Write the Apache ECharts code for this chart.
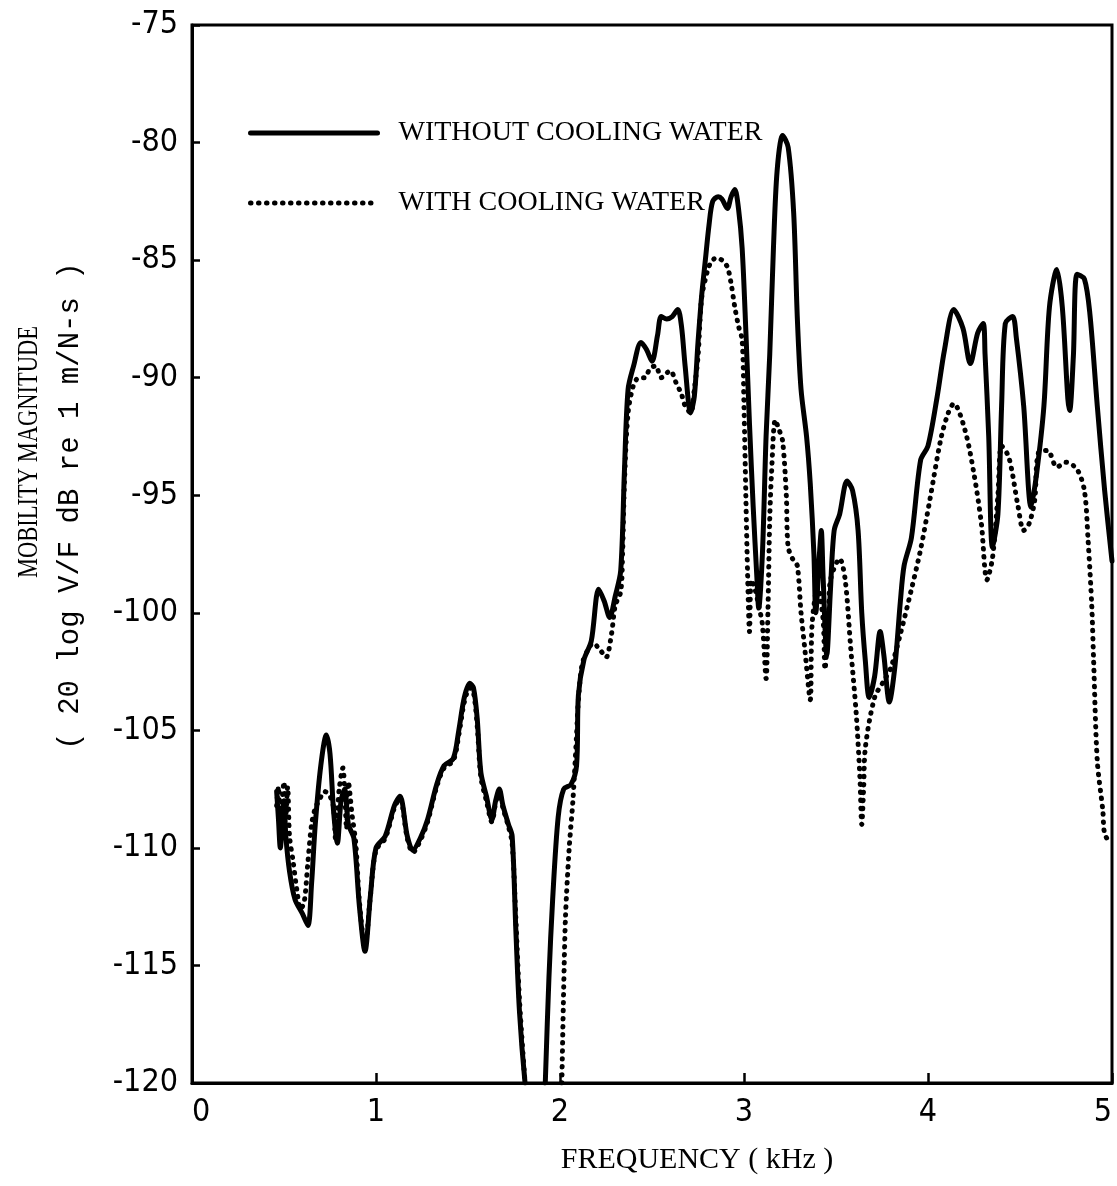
<!DOCTYPE html>
<html>
<head>
<meta charset="utf-8">
<script src="https://cdn.jsdelivr.net/npm/echarts@6/dist/echarts.min.js"></script>
<style>
  html, body { margin: 0; padding: 0; background: #ffffff; overflow: hidden; }
  #chart { width: 1117px; height: 1186px; }
</style>
</head>
<body>
<div id="chart"></div>
<script>
// Driving-point mobility, measured without cooling water (solid trace)
const freqDry = [0.46,0.47,0.48,0.49,0.50,0.51,0.53,0.56,0.60,0.63,0.65,0.67,0.70,0.73,0.75,0.77,0.79,0.81,0.83,0.85,0.88,0.91,0.94,0.97,1.00,1.05,1.10,1.13,1.17,1.20,1.24,1.28,1.33,1.37,1.42,1.45,1.48,1.51,1.53,1.55,1.57,1.60,1.63,1.65,1.67,1.69,1.72,1.74,1.76,1.78,1.81,1.86,1.92,1.94,1.96,1.99,2.02,2.06,2.09,2.10,2.13,2.17,2.21,2.24,2.27,2.30,2.33,2.35,2.37,2.40,2.44,2.47,2.50,2.53,2.55,2.58,2.61,2.64,2.66,2.68,2.71,2.73,2.75,2.77,2.79,2.81,2.83,2.86,2.88,2.91,2.93,2.95,2.97,2.99,3.01,3.03,3.05,3.07,3.08,3.10,3.12,3.14,3.16,3.18,3.21,3.24,3.27,3.29,3.31,3.34,3.36,3.38,3.39,3.41,3.42,3.43,3.45,3.47,3.49,3.52,3.56,3.59,3.62,3.64,3.66,3.68,3.71,3.74,3.76,3.79,3.82,3.85,3.87,3.91,3.96,4.00,4.05,4.09,4.14,4.19,4.23,4.27,4.30,4.31,4.33,4.35,4.38,4.40,4.42,4.46,4.48,4.52,4.56,4.59,4.63,4.66,4.70,4.73,4.76,4.77,4.79,4.81,4.85,4.88,4.92,4.96,5.00];
const mobDry = [-107.6,-108.8,-110.0,-109.0,-108.0,-109.5,-111.0,-112.2,-112.8,-113.3,-111.5,-109.0,-106.5,-105.2,-106.0,-108.5,-109.8,-108.0,-107.5,-109.0,-109.6,-112.5,-114.4,-112.0,-110.0,-109.5,-108.2,-107.8,-109.5,-110.1,-109.6,-108.8,-107.3,-106.5,-106.2,-105.0,-103.6,-103.0,-103.2,-104.5,-106.8,-107.8,-108.8,-108.0,-107.5,-108.2,-109.0,-109.5,-113.5,-117.0,-120.0,null,-120.0,-115.5,-112.2,-108.7,-107.5,-107.3,-106.5,-103.5,-102.0,-101.2,-99.0,-99.5,-100.2,-99.3,-98.2,-94.0,-90.5,-89.5,-88.5,-88.8,-89.3,-88.2,-87.4,-87.5,-87.4,-87.1,-87.8,-89.5,-91.5,-90.8,-88.5,-86.5,-85.0,-83.5,-82.5,-82.3,-82.4,-82.8,-82.3,-82.0,-82.8,-84.5,-88.0,-92.0,-95.5,-98.5,-99.8,-97.5,-92.5,-89.0,-84.5,-81.2,-79.7,-80.2,-83.0,-87.5,-90.5,-92.5,-94.5,-97.5,-100.0,-97.5,-96.5,-98.5,-101.8,-99.0,-96.5,-95.8,-94.4,-94.8,-96.5,-100.0,-102.1,-103.6,-102.7,-100.8,-101.8,-103.8,-102.3,-99.5,-98.0,-96.8,-93.5,-92.9,-90.8,-88.8,-87.1,-87.9,-89.4,-88.1,-87.7,-89.0,-92.5,-97.2,-95.8,-91.2,-87.7,-87.4,-88.3,-91.2,-95.5,-94.1,-91.2,-87.0,-85.4,-87.0,-90.9,-91.4,-89.1,-85.6,-85.8,-87.3,-91.2,-94.8,-97.8];

// Same point, measured with cooling water (dotted trace)
const freqWet = [0.46,0.47,0.48,0.49,0.50,0.51,0.52,0.53,0.55,0.57,0.59,0.61,0.63,0.65,0.67,0.69,0.72,0.75,0.77,0.78,0.79,0.80,0.82,0.83,0.84,0.85,0.87,0.89,0.91,0.94,0.97,1.00,1.05,1.10,1.13,1.17,1.20,1.24,1.28,1.33,1.37,1.42,1.45,1.48,1.51,1.53,1.55,1.57,1.60,1.63,1.65,1.67,1.69,1.72,1.74,1.76,1.78,1.81,1.90,2.01,2.02,2.03,2.05,2.07,2.09,2.10,2.12,2.15,2.18,2.22,2.25,2.28,2.30,2.33,2.34,2.35,2.37,2.40,2.43,2.46,2.49,2.52,2.55,2.58,2.60,2.63,2.66,2.68,2.71,2.73,2.75,2.77,2.80,2.82,2.85,2.88,2.91,2.93,2.95,2.97,2.99,3.00,3.01,3.02,3.03,3.04,3.06,3.08,3.10,3.12,3.13,3.14,3.15,3.17,3.19,3.21,3.23,3.24,3.27,3.29,3.31,3.33,3.36,3.37,3.40,3.43,3.44,3.46,3.47,3.52,3.55,3.58,3.61,3.63,3.64,3.65,3.66,3.71,3.76,3.80,3.85,3.91,3.96,4.01,4.07,4.11,4.14,4.20,4.25,4.29,4.32,4.35,4.38,4.40,4.44,4.49,4.52,4.55,4.58,4.60,4.65,4.70,4.75,4.81,4.85,4.87,4.89,4.90,4.92,4.95,4.96,4.99];
const mobWet = [-108.2,-107.4,-109.2,-108.0,-107.2,-108.6,-107.4,-109.5,-110.6,-111.8,-112.6,-112.3,-110.6,-109.0,-108.3,-108.0,-107.6,-107.8,-108.3,-109.6,-108.6,-107.5,-106.6,-107.6,-109.2,-107.2,-108.6,-109.8,-112.3,-114.2,-112.0,-110.1,-109.6,-108.3,-107.9,-109.6,-110.2,-109.7,-108.9,-107.4,-106.6,-106.3,-105.2,-103.8,-103.2,-103.4,-104.8,-107.0,-108.0,-108.9,-108.1,-107.6,-108.3,-109.1,-109.8,-113.0,-116.5,-120.0,null,-120.0,-116.0,-112.9,-110.0,-108.0,-105.2,-103.7,-102.2,-101.6,-101.3,-101.6,-101.9,-100.9,-99.7,-99.1,-97.5,-94.5,-91.5,-90.3,-90.0,-90.0,-89.6,-89.5,-90.0,-89.8,-89.7,-90.2,-90.7,-91.2,-91.5,-90.5,-89.1,-86.6,-85.5,-85.1,-84.9,-85.0,-85.3,-86.0,-87.0,-87.8,-88.4,-91.2,-95.0,-98.5,-100.8,-98.6,-99.0,-99.7,-100.5,-102.8,-100.0,-96.0,-94.0,-91.8,-92.2,-92.7,-95.0,-97.2,-97.8,-98.0,-100.0,-101.5,-103.7,-100.5,-98.9,-100.3,-102.4,-100.0,-98.6,-97.7,-98.6,-101.5,-104.3,-107.0,-109.0,-107.5,-105.7,-103.6,-102.9,-102.3,-100.9,-99.0,-97.3,-95.2,-92.6,-91.5,-91.1,-92.2,-94.1,-96.2,-98.6,-97.7,-95.0,-92.9,-93.4,-95.5,-96.5,-96.2,-95.2,-93.2,-93.1,-93.8,-93.6,-93.9,-94.8,-96.9,-99.7,-102.0,-106.3,-108.4,-109.4,-109.8];

const seriesNames = ['WITHOUT COOLING WATER', 'WITH COOLING WATER'];
const freqTicks = [0, 1, 2, 3, 4, 5];
const yTitleLines = ['MOBILITY MAGNITUDE', '( 20 log V/F dB re 1 m/N-s )'];
const xTitle = 'FREQUENCY ( kHz )';

// a null reading marks where the trace runs off the bottom of the scale
function toPairs(freq, mob) {
  return freq.map((f, i) => [f, mob[i] === null ? '-' : mob[i]]);
}

const tickFont = "'DejaVu Sans Condensed', 'DejaVu Sans', sans-serif";
const textFont = "'Liberation Serif', 'DejaVu Serif', serif";
const monoFont = "'Liberation Mono', 'DejaVu Sans Mono', monospace";

const solidStyle = { color: '#000', width: 5, cap: 'round', join: 'round' };
const dottedStyle = { color: '#000', width: 5, type: [0.5, 7.5], cap: 'round', join: 'round' };

const chart = echarts.init(document.getElementById('chart'), null, { renderer: 'canvas' });

chart.setOption({
  backgroundColor: '#ffffff',
  animation: false,
  grid: {
    left: 192, right: 5, top: 25, bottom: 103,
    outerBoundsMode: 'none',
    show: true, borderColor: '#000', borderWidth: 3, backgroundColor: 'transparent'
  },
  legend: {
    orient: 'vertical',
    left: 243, top: 114,
    itemWidth: 127, itemHeight: 20, itemGap: 42,
    itemStyle: { opacity: 0 },
    data: [
      { name: seriesNames[0], lineStyle: solidStyle },
      { name: seriesNames[1], lineStyle: dottedStyle }
    ],
    textStyle: { fontFamily: textFont, fontSize: 28, color: '#000', padding: [0, 0, 0, 16] }
  },
  xAxis: {
    type: 'value', min: freqTicks[0], max: freqTicks[freqTicks.length - 1], interval: 1,
    axisLine: { lineStyle: { color: '#000', width: 3 } },
    axisTick: { inside: true, length: 10, lineStyle: { color: '#000', width: 2.5 } },
    axisLabel: {
      margin: 14, color: '#000', fontSize: 32, fontFamily: tickFont,
      alignMinLabel: 'left', alignMaxLabel: 'right'
    },
    splitLine: { show: false }
  },
  yAxis: {
    type: 'value', min: -120, max: -75, interval: 5,
    axisLine: { lineStyle: { color: '#000', width: 3 } },
    axisTick: { inside: true, length: 8, lineStyle: { color: '#000', width: 2.5 } },
    axisLabel: { margin: 14, color: '#000', fontSize: 32, fontFamily: tickFont },
    splitLine: { show: false }
  },
  series: [
    {
      name: seriesNames[0], type: 'line', data: toPairs(freqDry, mobDry),
      symbol: 'none', smooth: 0.3, clip: true,
      lineStyle: solidStyle, itemStyle: { color: '#000' }
    },
    {
      name: seriesNames[1], type: 'line', data: toPairs(freqWet, mobWet),
      symbol: 'none', smooth: 0.3, clip: true,
      lineStyle: dottedStyle, itemStyle: { color: '#000' }
    }
  ],
  graphic: [
    {
      // narrow, tall lettering for the quantity name
      type: 'text', x: 29, y: 452, rotation: Math.PI / 2, scaleX: 0.75,
      style: { text: yTitleLines[0], font: '30px ' + textFont, fill: '#000', textAlign: 'center', textVerticalAlign: 'middle' }
    },
    {
      type: 'text', x: 70, y: 506, rotation: Math.PI / 2,
      style: { text: yTitleLines[1], font: '29px ' + monoFont, fill: '#000', textAlign: 'center', textVerticalAlign: 'middle' }
    },
    {
      type: 'text', x: 697, y: 1160,
      style: { text: xTitle, font: '30px ' + textFont, fill: '#000', textAlign: 'center', textVerticalAlign: 'middle' }
    }
  ]
});
</script>
</body>
</html>
